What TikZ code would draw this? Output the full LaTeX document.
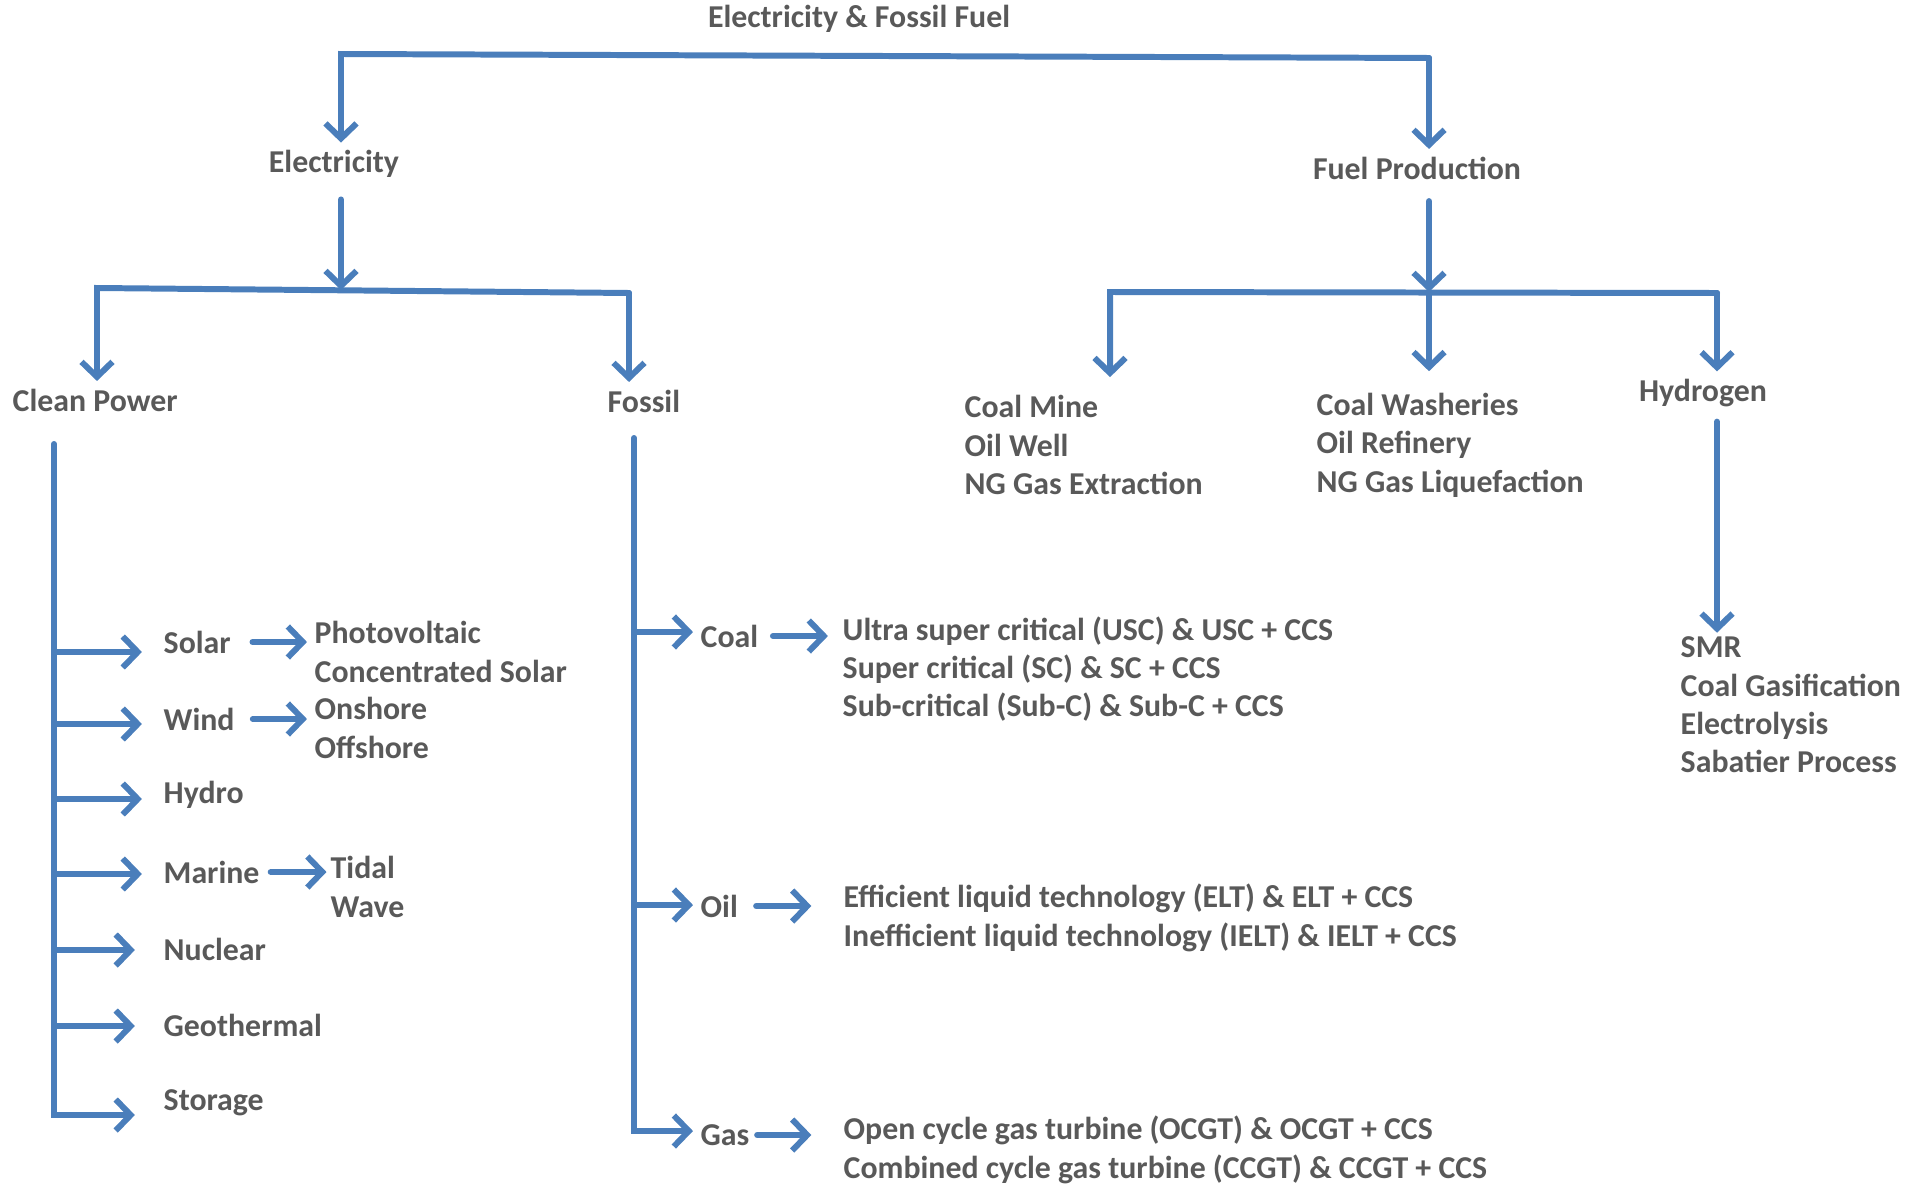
\documentclass[tikz,border=0pt]{standalone}
\usepackage{fontspec}
\setmainfont{Carlito}
\usetikzlibrary{arrows.meta, positioning}
\definecolor{lineblue}{HTML}{4A7EBB}
\definecolor{txtgray}{HTML}{595959}

\begin{document}
\begin{tikzpicture}[x=0.01cm, y=-0.01cm,
  t/.style={font=\fontsize{9.05}{10.9}\selectfont\bfseries, text=txtgray, inner sep=0pt, anchor=west, align=left},
  ln/.style={draw=lineblue, line width=1.7pt},
  e/.style={ln, -{Straight Barb[length=1.5mm, width=3.1mm]}, line cap=round, shorten >=2pt}]
  \useasboundingbox (0,0) rectangle (1907,1185);

  % headings
  \node[t, anchor=center] (top)  at (859,19)   {Electricity \& Fossil Fuel};
  \node[t, anchor=center] (elec) at (334,164)  {Electricity};
  \node[t, anchor=center] (fuel) at (1417,168) {Fuel Production};
  \node[t] (clean)  at (12,400)  {Clean Power};
  \node[t] (fossil) at (607,401) {Fossil};
  \node[t] (mine) at (964,445)  {Coal Mine\\Oil Well\\NG Gas Extraction};
  \node[t] (wash) at (1316,445) {Coal Washeries\\Oil Refinery\\NG Gas Liquefaction};
  \node[t, anchor=center] (hyd) at (1703,393) {Hydrogen};
  \node[t] (hydsub) at (1680,705) {SMR\\Coal Gasification\\Electrolysis\\Sabatier Process};

  % clean power
  \node[t] (solar)   at (163,642)  {Solar};
  \node[t] (wind)    at (163,719)  {Wind};
  \node[t] (hydro)   at (163,795)  {Hydro};
  \node[t] (marine)  at (163,872)  {Marine};
  \node[t] (nuclear) at (163,949)  {Nuclear};
  \node[t] (geo)     at (163,1025) {Geothermal};
  \node[t] (stor)    at (163,1103) {Storage};
  \node[t] (solarsub)  at (314,652) {Photovoltaic\\Concentrated Solar};
  \node[t] (windsub)   at (314,728) {Onshore\\Offshore};
  \node[t] (marinesub) at (330,887) {Tidal\\Wave};

  % fossil
  \node[t] (coal) at (700,636)  {Coal};
  \node[t] (oil)  at (700,906)  {Oil};
  \node[t] (gas)  at (700,1135) {Gas};
  \node[t] (coalsub) at (842,669) {Ultra super critical (USC) \& USC + CCS\\Super critical (SC) \& SC + CCS\\Sub-critical (Sub-C) \& Sub-C + CCS};
  \node[t] (oilsub)  at (843,918) {Efficient liquid technology (ELT) \& ELT + CCS\\Inefficient liquid technology (IELT) \& IELT + CCS};
  \node[t] (gassub)  at (843,1150) {Open cycle gas turbine (OCGT) \& OCGT + CCS\\Combined cycle gas turbine (CCGT) \& CCGT + CCS};

  % brackets
  \coordinate (tl) at (341,54);
  \coordinate (tr) at (1429,58);
  \coordinate (el) at (97,288);
  \coordinate (ej) at (341,290);
  \coordinate (er) at (629,293);
  \coordinate (fl) at (1110,292);
  \coordinate (fj) at (1429,292);
  \coordinate (fr) at (1717,293);
  \draw[e] (tr) -- (tl) -- (tl |- elec.north);
  \draw[e] (tr) -- (tr |- fuel.north);
  \draw[e, shorten <=6pt, shorten >=0pt] (elec.south -| ej) -- (ej);
  \draw[e] (er) -- (el) -- (el |- clean.north);
  \draw[e] (er) -- (er |- fossil.north);
  \draw[e, shorten <=6pt, shorten >=0pt] (fuel.south -| fj) -- (fj);
  \draw[e, shorten >=5pt] (fr) -- (fl) -- (fl |- mine.north);
  \draw[e, shorten >=6pt] (fj) -- (fj |- wash.north);
  \draw[e] (fr) -- (fr |- hyd.north);
  \draw[e, shorten <=4pt, shorten >=1pt] (hyd.south -| fr) -- (fr |- hydsub.north);

  % clean power branches
  \coordinate (ct) at (54,444);
  \foreach \n/\y in {solar/652, wind/724, hydro/799, marine/874, nuclear/950, geo/1026, stor/1115}
    \coordinate (b\n) at (54,\y);
  \draw[e, shorten >=8pt] (ct) -- (bstor) -- (bstor -| stor.west);
  \foreach \n/\s in {solar/6pt, wind/6pt, hydro/6pt, marine/6pt, nuclear/8pt, geo/8pt}
    \draw[e, shorten >=\s] (b\n) -- (b\n -| \n.west);
  \draw[e, shorten <=6pt, shorten >=2pt] (solar.east) -- (solar.east -| solarsub.west);
  \draw[e, shorten <=5pt, shorten >=2pt] (wind.east) -- (wind.east -| windsub.west);
  \draw[e, shorten <=3pt, shorten >=1pt] (marine.east) -- (marine.east -| marinesub.west);

  % fossil branches
  \coordinate (ft) at (634,438);
  \coordinate (bcoal) at (634,632);
  \coordinate (boil) at (634,905);
  \coordinate (bgas) at (634,1131);
  \draw[e] (ft) -- (bgas) -- (bgas -| gas.west);
  \draw[e] (bcoal) -- (bcoal -| coal.west);
  \draw[e] (boil) -- (boil -| oil.west);
  \draw[e, shorten <=4pt, shorten >=4pt] (coal.east) -- (coal.east -| coalsub.west);
  \draw[e, shorten <=5pt, shorten >=9pt] (oil.east) -- (oil.east -| oilsub.west);
  \draw[e, shorten <=2pt, shorten >=9pt] (gas.east) -- (gas.east -| gassub.west);
\end{tikzpicture}
\end{document}
